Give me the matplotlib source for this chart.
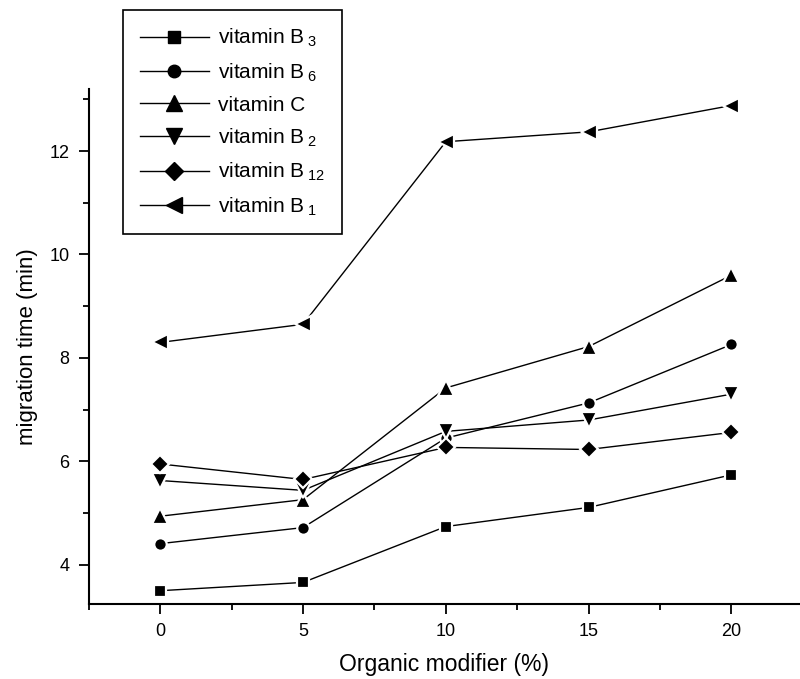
import matplotlib
matplotlib.use("Agg")
import matplotlib.pyplot as plt
from matplotlib.ticker import MultipleLocator

plt.rcParams['font.family'] = ['Liberation Sans', 'DejaVu Sans']
plt.rcParams['mathtext.fontset'] = 'custom'
plt.rcParams['mathtext.rm'] = 'Liberation Sans'
plt.rcParams['mathtext.it'] = 'Liberation Sans'

organic = [0, 5, 10, 15, 20]
b3 = [3.50, 3.66, 4.74, 5.11, 5.74]
b6 = [4.41, 4.72, 6.45, 7.13, 8.26]
vc = [4.94, 5.26, 7.42, 8.22, 9.60]
b2 = [5.63, 5.44, 6.58, 6.80, 7.30]
b12 = [5.95, 5.65, 6.27, 6.23, 6.56]
b1 = [8.30, 8.65, 12.18, 12.37, 12.88]

series = [
    (b3, 's', 8, 'vitamin B$_{\\;3}$'),
    (b6, 'o', 9, 'vitamin B$_{\\;6}$'),
    (vc, '^', 11, 'vitamin C'),
    (b2, 'v', 11, 'vitamin B$_{\\;2}$'),
    (b12, 'D', 9, 'vitamin B$_{\\;12}$'),
    (b1, '<', 11, 'vitamin B$_{\\;1}$'),
]

fig = plt.figure(figsize=(8, 6.79), dpi=100)
ax = fig.add_axes([0.111, 0.111, 0.889, 0.758])

handles = []
for vals, m, ms, lab in series:
    ax.plot(organic, vals, color='black', lw=1.0, marker=m, ms=ms,
            mfc='black', mec='white', mew=1.6, zorder=3)
    h, = ax.plot([], [], color='black', lw=1.0, marker=m, ms=ms,
                 mfc='black', mec='black', label=lab)
    handles.append(h)

ax.set_xlim(-2.5, 22.4)
ax.set_ylim(3.25, 13.2)
ax.xaxis.set_major_locator(MultipleLocator(5))
ax.xaxis.set_minor_locator(MultipleLocator(2.5))
ax.yaxis.set_major_locator(MultipleLocator(2))
ax.yaxis.set_minor_locator(MultipleLocator(1))
ax.spines['top'].set_visible(False)
ax.spines['right'].set_visible(False)
for s in ('left', 'bottom'):
    ax.spines[s].set_linewidth(1.5)
ax.tick_params(which='major', direction='out', length=7, width=1.3, labelsize=13, pad=7)
ax.tick_params(which='minor', direction='out', length=4, width=1.3)

ax.set_xlabel('Organic modifier (%)', fontsize=16.5, labelpad=9)
ax.set_ylabel('migration time (min)', fontsize=16, labelpad=8)

leg = fig.legend(handles=handles, loc='upper left', bbox_to_anchor=(0.154, 0.985),
                 borderaxespad=0.0,
                 fontsize=15, handlelength=3.3, handletextpad=0.45,
                 labelspacing=0.58, borderpad=0.8, fancybox=False,
                 edgecolor='black', framealpha=1)
leg.get_frame().set_linewidth(1.2)

fig.savefig('out.png', dpi=100)
